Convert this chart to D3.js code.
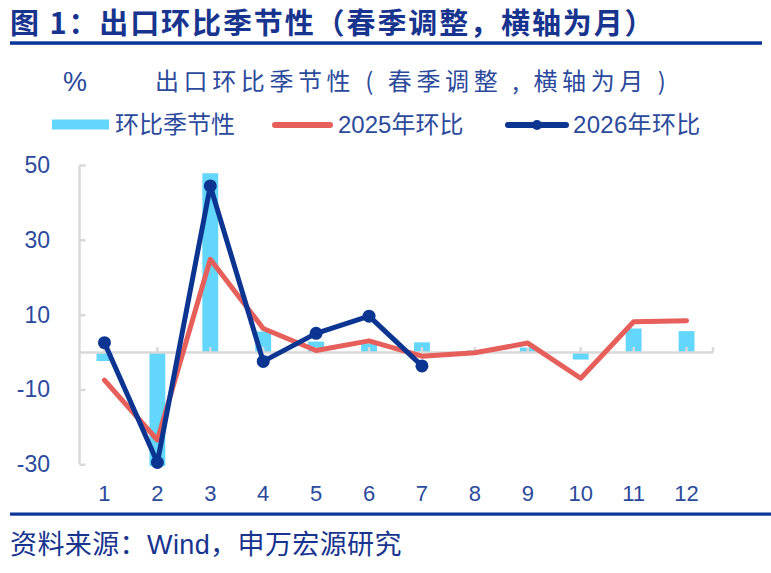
<!DOCTYPE html>
<html><head><meta charset="utf-8">
<script src="https://cdn.jsdelivr.net/npm/d3@7"></script>
<style>
html,body{margin:0;padding:0;background:#fff;}
svg{display:block;}
</style></head>
<body>
<svg id="c" width="771" height="573"></svg>
<script>
const months = ["1","2","3","4","5","6","7","8","9","10","11","12"];
const seasonal = [-2.4, -30.5, 47.8, 5.5, 2.8, 2.3, 2.6, 0.4, 1.2, -2.0, 6.3, 5.6];
const y2025 = [-7.5, -23.5, 24.8, 6.3, 0.4, 3.0, -1.1, -0.2, 2.4, -7.0, 8.1, 8.4];
const y2026 = [2.5, -29.5, 44.4, -2.5, 5.0, 9.6, -3.7];
const yTicks = [-30, -10, 10, 30, 50];
const seriesNames = ["环比季节性", "2025年环比", "2026年环比"];
const titleText = "图 1：出口环比季节性（春季调整，横轴为月）";
const subtitleText = "出口环比季节性 ( 春季调整 , 横轴为月 )";
const unitText = "%";
const sourceText = "资料来源：Wind，申万宏源研究";

const C_BAR = "#63d6fc", C_RED = "#e65f5b", C_BLUE = "#0b3591", C_AXIS = "#d9d9d9";
const C_TEXT = "#2b4a9c", C_TITLE = "#17348f";
const FONT = "'Liberation Sans', Arial, 'Noto Sans CJK SC', sans-serif";
const CJK = "'Noto Sans CJK SC', 'Liberation Sans', sans-serif";

const svg = d3.select("#c");
const x = d3.scaleBand().domain(months).range([78, 713]).padding(0);
const y = d3.scaleLinear().domain([-30, 50]).range([464.3, 165]);
const cx = m => x(m) + x.bandwidth() / 2;
const barW = x.bandwidth() * 0.3;

// Title
svg.append("text").attr("x", 10).attr("y", 34)
  .attr("font-family", CJK).attr("font-weight", 700).attr("font-size", 29)
  .attr("letter-spacing", 1.9).attr("fill", C_TITLE).text(titleText);
svg.append("rect").attr("x", 10).attr("y", 41.3).attr("width", 752).attr("height", 3.5).attr("fill", "#0a3697");

// Unit & subtitle
svg.append("text").attr("x", 63).attr("y", 91).attr("font-family", FONT)
  .attr("font-size", 27).attr("fill", C_TEXT).text(unitText);
svg.append("text").attr("x", 155).attr("y", 90).attr("font-family", CJK)
  .attr("font-size", 24).attr("letter-spacing", 4.6).attr("fill", C_TEXT).text(subtitleText);

// Legend
const lg = svg.append("g").attr("font-family", FONT).attr("font-size", 24).attr("fill", C_TEXT);
lg.append("rect").attr("x", 52).attr("y", 119.5).attr("width", 57).attr("height", 10).attr("fill", C_BAR);
lg.append("text").attr("x", 115).attr("y", 133).text(seriesNames[0]);
lg.append("line").attr("x1", 275).attr("x2", 330).attr("y1", 125).attr("y2", 125)
  .attr("stroke", C_RED).attr("stroke-width", 6).attr("stroke-linecap", "round");
lg.append("text").attr("x", 338).attr("y", 133).text(seriesNames[1]);
lg.append("line").attr("x1", 508).attr("x2", 566).attr("y1", 125).attr("y2", 125)
  .attr("stroke", C_BLUE).attr("stroke-width", 6).attr("stroke-linecap", "round");
lg.append("circle").attr("cx", 537).attr("cy", 125).attr("r", 5).attr("fill", C_BLUE);
lg.append("text").attr("x", 573).attr("y", 133).attr("letter-spacing", 0.3).text(seriesNames[2]);

// Bars
svg.append("g").selectAll("rect").data(seasonal).join("rect")
  .attr("x", (d, i) => cx(months[i]) - barW / 2)
  .attr("width", barW)
  .attr("y", d => y(Math.max(0, d)))
  .attr("height", d => Math.abs(y(d) - y(0)))
  .attr("fill", C_BAR);

// Y axis
const ya = svg.append("g").attr("transform", "translate(79.5,0)");
ya.call(d3.axisRight(y).tickValues(yTicks).tickSize(6).tickFormat(""));
ya.select(".domain").attr("d", `M0,${y(-30)}V${y(50)}`).attr("stroke", C_AXIS).attr("stroke-width", 2.5);
ya.selectAll(".tick line").attr("stroke", C_AXIS).attr("stroke-width", 2.5);
svg.append("g").selectAll("text").data(yTicks).join("text")
  .attr("x", 50).attr("y", d => y(d) + 8).attr("text-anchor", "end")
  .attr("font-family", FONT).attr("font-size", 23).attr("fill", C_TEXT).text(d => d);

// X axis (zero line)
const xa = svg.append("g").attr("transform", `translate(0,${y(0)})`);
xa.call(d3.axisTop(x).tickSize(5).tickSizeOuter(0).tickFormat(""));
xa.select(".domain").attr("stroke", C_AXIS).attr("stroke-width", 2.5);
xa.selectAll(".tick line").attr("stroke", C_AXIS).attr("stroke-width", 2.5);
xa.append("line").attr("x1", 713).attr("x2", 713).attr("y1", 0).attr("y2", -5)
  .attr("stroke", C_AXIS).attr("stroke-width", 2.5);
svg.append("g").selectAll("text").data(months).join("text")
  .attr("x", d => cx(d)).attr("y", 501).attr("text-anchor", "middle")
  .attr("font-family", FONT).attr("font-size", 22).attr("fill", C_TEXT).text(d => d);

// Lines
const line = d3.line().x((d, i) => cx(months[i])).y(d => y(d));
svg.append("path").datum(y2025).attr("d", line).attr("fill", "none")
  .attr("stroke", C_RED).attr("stroke-width", 5).attr("stroke-linejoin", "round").attr("stroke-linecap", "round");
svg.append("path").datum(y2026).attr("d", line).attr("fill", "none")
  .attr("stroke", C_BLUE).attr("stroke-width", 5).attr("stroke-linejoin", "round");
svg.append("g").selectAll("circle").data(y2026).join("circle")
  .attr("cx", (d, i) => cx(months[i])).attr("cy", d => y(d)).attr("r", 6.5).attr("fill", C_BLUE);

// Footer
svg.append("rect").attr("x", 10).attr("y", 512.5).attr("width", 761).attr("height", 3.2).attr("fill", "#0a3697");
svg.append("text").attr("x", 10).attr("y", 554).attr("font-family", FONT)
  .attr("font-size", 27).attr("letter-spacing", 0.4).attr("fill", C_TITLE).text(sourceText);
</script>
</body></html>
